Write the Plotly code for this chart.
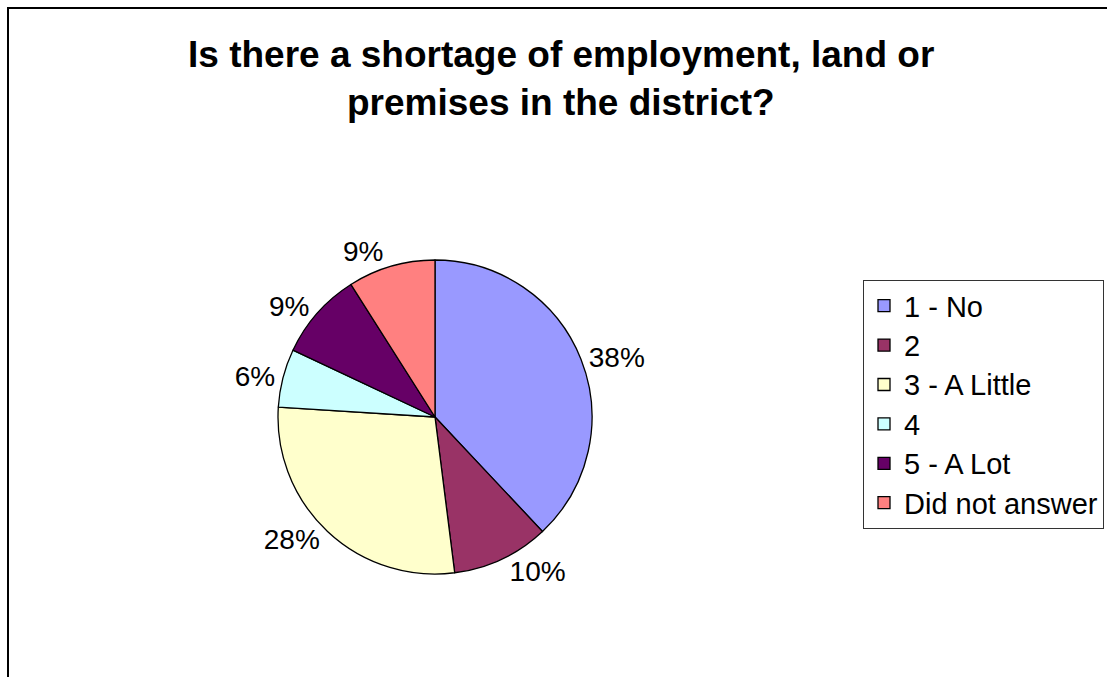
import plotly.graph_objects as go

# Survey responses
categories = ["1 - No", "2", "3 - A Little", "4", "5 - A Lot", "Did not answer"]
shares = [38, 10, 28, 6, 9, 9]
slice_colors = ["#9999FF", "#993366", "#FFFFCC", "#CCFFFF", "#660066", "#FF8080"]
title_lines = ["Is there a shortage of employment, land or", "premises in the district?"]

W, H = 1107, 677
FONT = "Liberation Sans, Arial, sans-serif"

# pie placement (pixels): centre and radius
cx, cy, r = 435, 417, 157

fig = go.Figure(
    go.Pie(
        labels=[f'<span style="font-size:29px">{c}</span>' for c in categories],
        values=shares,
        sort=False,
        direction="clockwise",
        rotation=0,
        marker=dict(colors=slice_colors, line=dict(color="black", width=1.3)),
        textinfo="percent",
        texttemplate="%{percent:.0%}",
        textposition="outside",
        outsidetextfont=dict(family=FONT, size=28, color="black"),
        domain=dict(x=[(cx - r) / W, (cx + r) / W], y=[1 - (cy + r) / H, 1 - (cy - r) / H]),
        hoverinfo="label+percent",
    )
)

annotations = []
for i, line in enumerate(title_lines):
    annotations.append(
        dict(
            text=f"<b>{line}</b>",
            xref="paper", yref="paper",
            x=561 / W, y=1 - (54 + 48 * i) / H,
            xanchor="center", yanchor="middle",
            showarrow=False,
            font=dict(family=FONT, size=37, color="black"),
        )
    )

fig.update_layout(
    width=W, height=H,
    margin=dict(l=0, r=0, t=0, b=0),
    paper_bgcolor="white",
    plot_bgcolor="white",
    annotations=annotations,
    showlegend=True,
    legend=dict(
        x=863 / W, y=1 - 280 / H,
        xanchor="left", yanchor="top",
        bgcolor="white",
        bordercolor="#333333", borderwidth=1,
        font=dict(family=FONT, size=28, color="black"),
        traceorder="normal",
    ),
    shapes=[
        dict(
            type="rect", xref="paper", yref="paper",
            x0=8 / W, x1=1.05, y0=-0.05, y1=1 - 8 / H,
            line=dict(color="black", width=2),
        )
    ],
)

fig.write_html("out.html")
